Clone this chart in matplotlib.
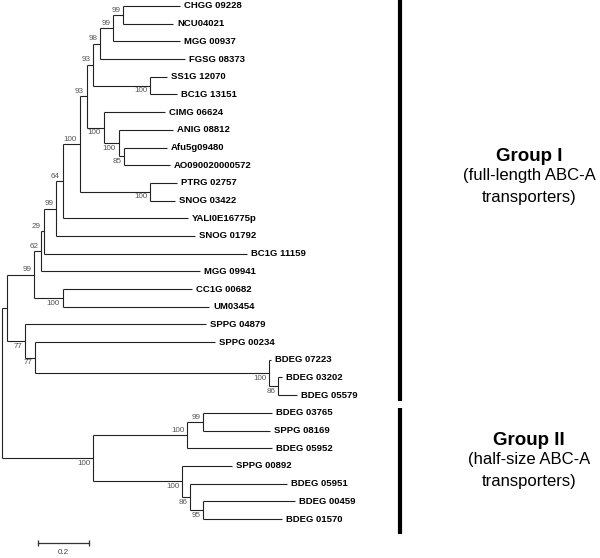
import matplotlib.pyplot as plt

plt.rcParams['font.family'] = ['Liberation Sans', 'DejaVu Sans']

# leaves, top to bottom, with tip distance from the root
leaf_names = ['CHGG 09228', 'NCU04021', 'MGG 00937', 'FGSG 08373', 'SS1G 12070',
              'BC1G 13151', 'CIMG 06624', 'ANIG 08812', 'Afu5g09480', 'AO090020000572',
              'PTRG 02757', 'SNOG 03422', 'YALI0E16775p', 'SNOG 01792', 'BC1G 11159',
              'MGG 09941', 'CC1G 00682', 'UM03454', 'SPPG 04879', 'SPPG 00234',
              'BDEG 07223', 'BDEG 03202', 'BDEG 05579', 'BDEG 03765', 'SPPG 08169',
              'BDEG 05952', 'SPPG 00892', 'BDEG 05951', 'BDEG 00459', 'BDEG 01570']
leaf_depth = [0.690, 0.663, 0.690, 0.709, 0.640,
              0.678, 0.632, 0.663, 0.640, 0.651,
              0.678, 0.671, 0.721, 0.748, 0.950,
              0.767, 0.736, 0.802, 0.791, 0.826,
              1.043, 1.085, 1.143, 1.047, 1.039,
              1.047, 0.891, 1.105, 1.136, 1.085]

# internal nodes (children listed before parents)
node_names = ['n_chgg', 'n_mgg', 'n_fgsg', 'n_ss1g', 'n_93a', 'n_afu', 'n_anig', 'n_cimg',
              'n_93b', 'n_ptrg', 'n_100a', 'n_64', 'n_99b', 'n_29', 'n_62', 'n_cc1g',
              'n_99a', 'n_bdeg86', 'n_bdeg', 'n_77b', 'n_77a', 'g1',
              'n_sa99', 'n_sa', 'n_95', 'n_sb86', 'n_sb', 'g2', 'root']
node_children = [('CHGG 09228', 'NCU04021'), ('n_chgg', 'MGG 00937'), ('n_mgg', 'FGSG 08373'),
                 ('SS1G 12070', 'BC1G 13151'), ('n_fgsg', 'n_ss1g'),
                 ('Afu5g09480', 'AO090020000572'), ('ANIG 08812', 'n_afu'),
                 ('CIMG 06624', 'n_anig'), ('n_93a', 'n_cimg'),
                 ('PTRG 02757', 'SNOG 03422'), ('n_93b', 'n_ptrg'), ('n_100a', 'YALI0E16775p'),
                 ('n_64', 'SNOG 01792'), ('n_99b', 'BC1G 11159'), ('n_29', 'MGG 09941'),
                 ('CC1G 00682', 'UM03454'), ('n_62', 'n_cc1g'),
                 ('BDEG 03202', 'BDEG 05579'), ('BDEG 07223', 'n_bdeg86'),
                 ('SPPG 00234', 'n_bdeg'), ('SPPG 04879', 'n_77b'), ('n_99a', 'n_77a'),
                 ('BDEG 03765', 'SPPG 08169'), ('n_sa99', 'BDEG 05952'),
                 ('BDEG 00459', 'BDEG 01570'), ('BDEG 05951', 'n_95'), ('SPPG 00892', 'n_sb86'),
                 ('n_sa', 'n_sb'), ('g1', 'g2')]
node_depth = [0.469, 0.430, 0.380, 0.574, 0.353, 0.473, 0.453, 0.395,
              0.329, 0.574, 0.302, 0.236, 0.209, 0.161, 0.151, 0.236,
              0.124, 1.070, 1.035, 0.128, 0.089, 0.019,
              0.779, 0.717, 0.779, 0.729, 0.698, 0.353, 0.0]
node_support = ['99', '99', '98', '100', '93', '85', '100', '100',
                '93', '100', '100', '64', '99', '29', '62', '100',
                '99', '86', '100', '77', '77', '',
                '99', '100', '95', '86', '100', '100', '']

group_titles = ['Group I', 'Group II']
group_notes = [('(full-length ABC-A', 'transporters)'), ('(half-size ABC-A', 'transporters)')]
group_first = ['CHGG 09228', 'BDEG 03765']
group_last = ['BDEG 05579', 'BDEG 01570']

scale_length = 0.2

depth = dict(zip(leaf_names, leaf_depth))
ypos = {name: i for i, name in enumerate(leaf_names)}
depth.update(zip(node_names, node_depth))
first_child = set()
for name, kids in zip(node_names, node_children):
    ypos[name] = (ypos[kids[0]] + ypos[kids[-1]]) / 2
    first_child.add(kids[0])

# 1 unit of distance = 258 px, one leaf row = 17.69 px
fig = plt.figure(figsize=(6, 5.58), dpi=100)
ax = fig.add_axes([0, 0, 1, 1])
ax.set_xlim(-2 / 258, 598 / 258)
ax.set_ylim(552 / 17.69, -6 / 17.69)
ax.axis('off')

line_kw = dict(color='#222222', lw=0.8, solid_capstyle='butt')
for name, kids, sup in zip(node_names, node_children, node_support):
    d = depth[name]
    ax.plot([d, d], [ypos[kids[0]], ypos[kids[-1]]], **line_kw)
    for k in kids:
        ax.plot([d, depth[k]], [ypos[k], ypos[k]], **line_kw)
    if sup:
        if name in first_child:
            ax.annotate(sup, (d, ypos[name]), xytext=(-2, 0.8), textcoords='offset points',
                        ha='right', va='bottom', fontsize=5.8, color='#555555')
        else:
            ax.annotate(sup, (d, ypos[name]), xytext=(-2, -1.2), textcoords='offset points',
                        ha='right', va='top', fontsize=5.8, color='#555555')

for name in leaf_names:
    ax.annotate(name, (depth[name], ypos[name]), xytext=(2.9, 0), textcoords='offset points',
                ha='left', va='center', fontsize=6.8, fontweight='bold', color='black')

# group bars and captions
bar_x = 398 / 258
text_x = 527 / 258
pads = [(-0.4, 0.35), (-0.3, 0.85)]
title_y = [8.5, 24.55]
for title, notes, a, b, pad, ty in zip(group_titles, group_notes, group_first, group_last, pads, title_y):
    ax.plot([bar_x, bar_x], [ypos[a] + pad[0], ypos[b] + pad[1]], color='black', lw=3,
            solid_capstyle='butt')
    ax.text(text_x, ty, title, ha='center', va='center', fontsize=13.5, fontweight='bold')
    ax.text(text_x, ty + 1.1, notes[0], ha='center', va='center', fontsize=12)
    ax.text(text_x, ty + 2.35, notes[1], ha='center', va='center', fontsize=12)

# scale bar
sb_x = 35.7 / 258
sb_y = len(leaf_names) + 0.36
ax.plot([sb_x, sb_x + scale_length], [sb_y, sb_y], color='#333333', lw=0.9)
ax.plot([sb_x, sb_x + scale_length], [sb_y, sb_y], ls='none', marker='|', ms=5,
        mew=0.9, color='#333333')
ax.annotate(str(scale_length), (sb_x + scale_length / 2, sb_y), xytext=(0, -4.5),
            textcoords='offset points', ha='center', va='top', fontsize=5.8, color='#444444')

fig.savefig('out.png', dpi=100)
